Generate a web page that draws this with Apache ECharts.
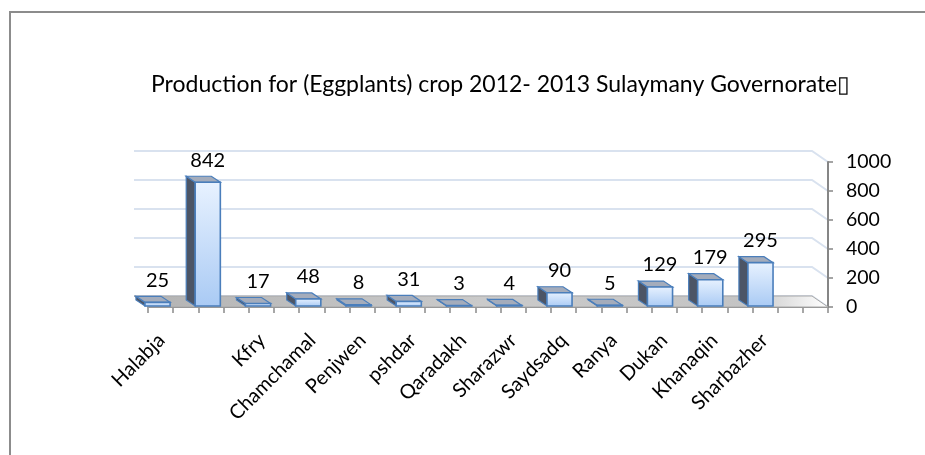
<!DOCTYPE html>
<html><head><meta charset="utf-8">
<script src="https://cdn.jsdelivr.net/npm/echarts@6/dist/echarts.min.js"></script>
<style>html,body{margin:0;padding:0;background:#fff}#c{width:925px;height:455px}</style>
</head><body><div id="c"></div><script>
const chartTitle = "Production for (Eggplants) crop 2012- 2013 Sulaymany Governorate\u25AF";
const categories = ["Halabja","","Kfry","Chamchamal","Penjwen","pshdar","Qaradakh","Sharazwr","Saydsadq","Ranya","Dukan","Khanaqin","Sharbazher"];
const production = [25,842,17,48,8,31,3,4,90,5,129,179,295];
const valueMin = 0, valueMax = 1000, valueStep = 200;
const frontSlots = 27;

const W = 925, H = 455;
const FONT = 'Lato, "Open Sans", sans-serif';
const G0 = {left:132.4, right:139.4, top:159, bottom:149};
const LS = 4;
const G3 = {left:132.4+LS, right:139.4-LS, top:159, bottom:149};
const G1 = {left:148, right:97, top:162, bottom:148};
const WALL = {left:134, right:812, dy:-11};
const DX = -9, DY = -6;

const chart = echarts.init(document.getElementById('c'), null, {renderer:'canvas'});

function renderBar(params, api){
  const idx = api.value(0), v = api.value(1);
  const top = api.coord([idx, v]);
  const base = api.coord([idx, 0]);
  const bw = api.size([1,0])[0]*0.5;
  const x0 = top[0]-bw/2, x1 = top[0]+bw/2, yT = top[1], yB = base[1];
  const stroke = '#4a7ebb';
  return {type:'group', children:[
    {type:'polygon', shape:{points:[[x0,yT],[x0,yB],[x0+DX,yB+DY],[x0+DX,yT+DY]]},
      style:{fill:'#4c5566', stroke:stroke, lineWidth:1.2}},
    {type:'polygon', shape:{points:[[x0,yT],[x1,yT],[x1+DX,yT+DY],[x0+DX,yT+DY]]},
      style:{fill:'#a4acbb', stroke:stroke, lineWidth:1.2}},
    {type:'rect', shape:{x:x0,y:yT,width:bw,height:Math.max(yB-yT,0.5)},
      style:{fill:new echarts.graphic.LinearGradient(0,0,0,1,[{offset:0,color:'#e8f2ff'},{offset:1,color:'#a9caf4'}]),
        stroke:stroke, lineWidth:1.6}},
    {type:'text', style:{text:String(v), x:top[0], y:yT-22, align:'center', verticalAlign:'middle',
      fill:'#000', font:'20px '+FONT}}
  ]};
}

const hidden = {axisLine:{show:false}, axisTick:{show:false}, axisLabel:{show:false}, splitLine:{show:false}, splitArea:{show:false}};

chart.setOption({
  animation:false,
  title:{text:chartTitle, left:146, top:68, textStyle:{fontFamily:FONT, fontSize:23, fontWeight:'normal', color:'#000'}},
  grid:[Object.assign({}, G0), Object.assign({}, G1), Object.assign({}, G3)],
  xAxis:[
    Object.assign({gridIndex:0, type:'category', data:categories}, hidden),
    {gridIndex:1, type:'category', data:Array(frontSlots).fill(''), axisLine:{show:true, lineStyle:{color:'#8a8a8a', width:1}},
      axisTick:{show:true, interval:0, length:6, lineStyle:{color:'#8a8a8a', width:1.5}}, axisLabel:{show:false}, splitLine:{show:false}},
    {gridIndex:2, type:'category', data:categories, axisLine:{show:false}, axisTick:{show:false}, splitLine:{show:false},
      axisLabel:{interval:0, rotate:45, fontSize:20, fontFamily:FONT, color:'#000', margin:31}}
  ],
  yAxis:[
    Object.assign({gridIndex:0, type:'value', min:valueMin, max:valueMax}, hidden),
    {gridIndex:1, type:'value', position:'right', min:valueMin, max:valueMax, interval:valueStep,
      axisLine:{show:true, lineStyle:{color:'#868686', width:2}}, axisTick:{show:true, length:5, lineStyle:{color:'#868686', width:1.5}},
      axisLabel:{fontSize:19.5, fontFamily:FONT, color:'#000', margin:18, formatter:v=>String(v)}, splitLine:{show:false}},
    Object.assign({gridIndex:2, type:'value', min:valueMin, max:valueMax}, hidden)
  ],
  series:[{type:'custom', xAxisIndex:0, yAxisIndex:0, z:5, renderItem:renderBar,
    data:production.map((v,i)=>[i,v])}]
});

// decorations: frame, back wall gridlines, floor, wall-to-axis connectors
const ticks = [];
for (let v = valueMin; v <= valueMax; v += valueStep) ticks.push(v);
const frontR = W - G1.right;
const yf0 = chart.convertToPixel({yAxisIndex:1}, valueMin);
const yb0 = yf0 + WALL.dy;
const graphics = [
  {type:'rect', z:0, shape:{x:10, y:12, width:1200, height:1000}, style:{fill:null, stroke:'#8c8c8c', lineWidth:2}}
];
ticks.forEach(v=>{
  const yf = chart.convertToPixel({yAxisIndex:1}, v);
  const yb = yf + WALL.dy;
  graphics.push({type:'polyline', z:0, shape:{points:[[WALL.left,yb],[WALL.right,yb],[frontR,yf]]}, style:{stroke:'#d9e2ef', lineWidth:2, fill:null}});
});
graphics.push({type:'polygon', z:1, shape:{points:[[WALL.left,yb0],[WALL.right,yb0],[frontR,yf0],[G1.left,yf0]]},
    style:{fill:new echarts.graphic.LinearGradient(0,0,1,0,[{offset:0,color:'#b3b3b3'},{offset:0.5,color:'#cacaca'},{offset:0.88,color:'#c4c4c4'},{offset:1,color:'#ffffff'}]),
      stroke:'#a8a8a8', lineWidth:1}});
chart.setOption({graphic:graphics});
</script></body></html>
